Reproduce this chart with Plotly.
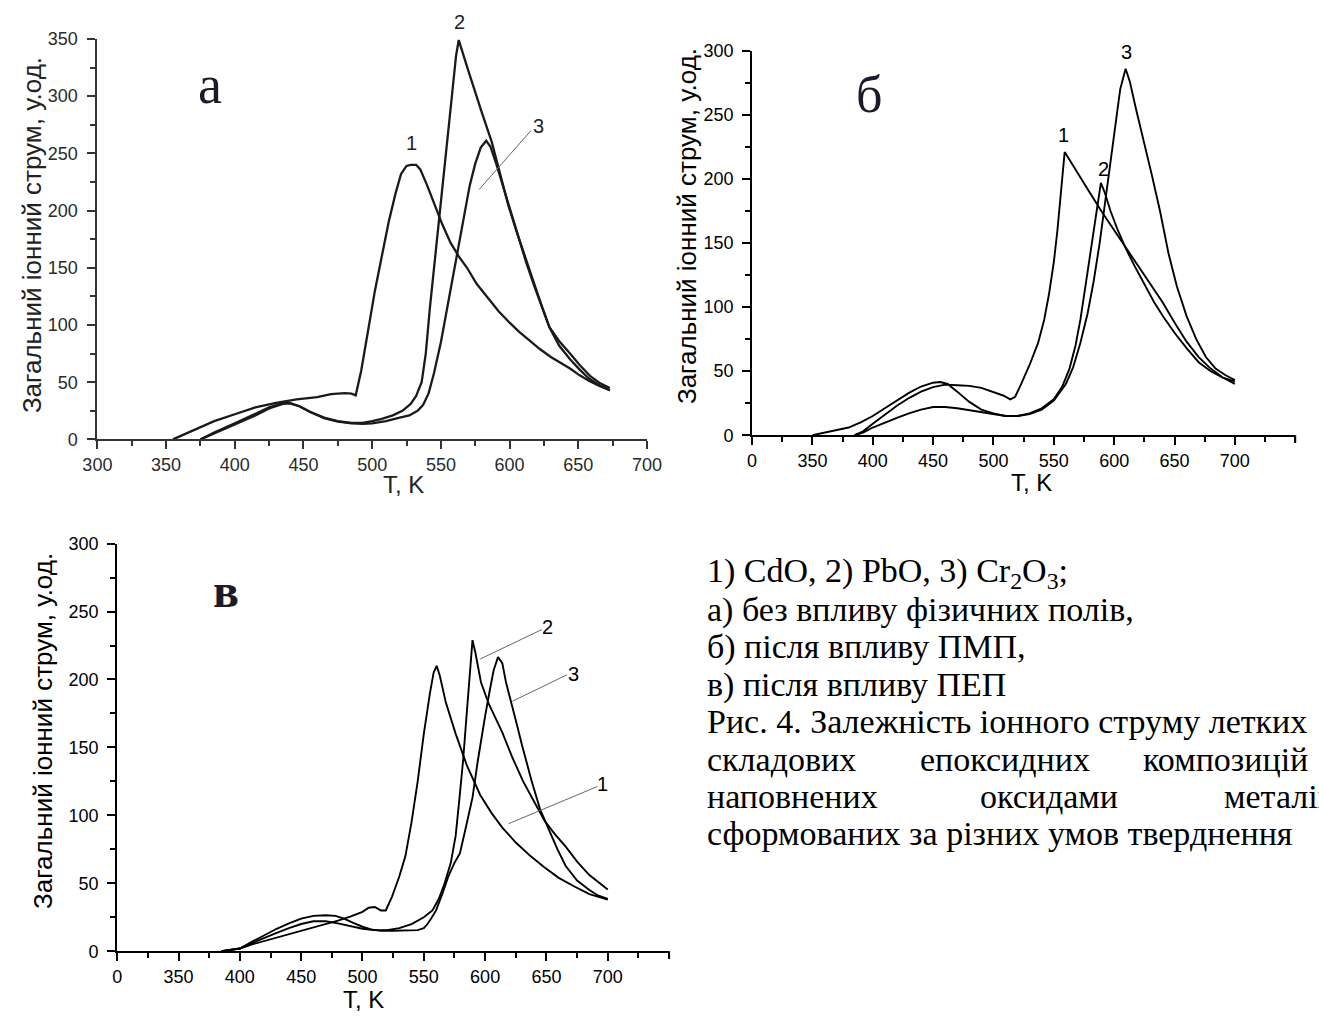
import plotly.graph_objects as go

W, H = 1319, 1021

# ---------------- data ----------------
# Panel а (без впливу фізичних полів)
a1_T = [355, 370, 385, 400, 415, 430, 445, 460, 470, 480, 485, 488, 492, 497, 502, 507, 512, 517, 521, 525, 528, 532, 535, 540, 545, 551, 557, 563, 569, 576, 584, 592, 600, 607, 614, 622, 630, 637, 644, 651, 658, 665, 673]
a1_I = [0, 8, 16, 22, 28, 32, 35, 37, 39.5, 40.5, 40, 38.5, 60, 95, 130, 160, 190, 215, 232, 239, 240, 240, 236, 222, 207, 188, 172, 160, 150, 136, 124, 112, 102, 94, 87, 79, 72, 67, 62, 56, 51, 47, 43]
a2_T = [375, 385, 400, 415, 425, 435, 440, 447, 455, 465, 475, 485, 493, 500, 507, 515, 522, 528, 532, 536, 539, 542, 546, 550, 554, 558, 561, 563, 570, 575, 580, 587, 593, 599, 605, 611, 617, 623, 629, 636, 644, 651, 659, 666, 673]
a2_I = [0, 6, 14, 22, 28, 32, 32, 29, 24, 19, 16, 14.5, 14.5, 16, 18, 21, 25, 31, 38, 50, 75, 115, 160, 205, 255, 300, 335, 349, 322, 303, 285, 260, 232, 205, 182, 160, 138, 118, 98, 86, 75, 65, 55, 49, 45]
a3_T = [375, 385, 400, 415, 425, 435, 440, 447, 455, 465, 475, 485, 493, 500, 510, 520, 527, 533, 537, 541, 545, 550, 555, 560, 566, 571, 575, 579, 583, 586, 590, 595, 600, 606, 612, 618, 623, 629, 636, 644, 651, 658, 666, 673]
a3_I = [0, 5, 13, 21, 27, 31, 31.5, 29, 24, 18.5, 15.5, 14, 13.5, 14, 16, 19, 21, 25, 30, 40, 58, 85, 118, 150, 190, 222, 241, 255, 261, 256, 242, 222, 202, 178, 155, 134, 117, 98, 82, 70, 61, 53, 47, 43]

# Panel б (після впливу ПМП)
b1_T = [385, 392, 400, 410, 420, 430, 440, 450, 460, 470, 480, 490, 500, 508, 514, 518, 523, 530, 537, 542, 546, 550, 553, 555, 557, 559, 563, 570, 580, 590, 600, 610, 620, 630, 640, 650, 660, 670, 680, 690, 700]
b1_I = [0, 3, 9, 16, 23, 29, 34, 37.5, 39.5, 39, 38.5, 37, 34, 31, 28, 30, 40, 55, 72, 90, 110, 135, 160, 180, 205, 221, 215, 204, 189, 174, 160, 146, 132, 119, 104, 88, 73, 61, 52, 45, 40]
b2_T = [385, 392, 400, 410, 420, 430, 440, 450, 460, 470, 480, 490, 500, 510, 520, 530, 540, 550, 557, 563, 568, 572, 576, 580, 583, 586, 589, 592, 597, 603, 610, 617, 625, 633, 641, 650, 660, 670, 680, 690, 700]
b2_I = [0, 2, 6, 10, 13.5, 17, 20, 22, 22, 21, 19.5, 17.5, 16, 15, 15, 17, 21, 28, 38, 52, 70, 90, 115, 140, 160, 180, 197, 190, 175, 160, 145, 132, 118, 104, 92, 80, 68, 57, 50, 45, 42]
b3_T = [350, 360, 370, 380, 390, 400, 410, 420, 430, 440, 450, 456, 462, 470, 480, 490, 500, 510, 520, 530, 540, 550, 560, 566, 572, 578, 583, 588, 593, 597, 601, 605, 609.5, 613, 618, 624, 631, 638, 645, 652, 660, 668, 676, 684, 692, 700]
b3_I = [0, 2, 4, 6, 10, 15, 21, 27, 33, 38, 41, 41.5, 40, 34, 26, 20, 17, 15, 15, 16.5, 20, 27, 40, 53, 72, 95, 120, 150, 185, 215, 245, 270, 286, 276, 255, 232, 204, 175, 142, 116, 93, 75, 61, 52, 47, 43]

# Panel в (після впливу ПЕП)
c1_T = [385, 395, 400, 410, 420, 430, 440, 450, 460, 470, 480, 490, 500, 505, 510, 515, 519, 524, 530, 535, 540, 545, 550, 555, 558, 560.5, 563, 568, 576, 585, 596, 605, 614, 625, 637, 648, 660, 672, 685, 700]
c1_I = [0, 1, 2, 5, 7.5, 10, 12.5, 14.5, 17, 19.5, 22.5, 25.5, 29, 32, 32.5, 30, 30, 40, 55, 70, 95, 125, 160, 190, 205, 210, 203, 183, 160, 137, 115, 102, 91, 80, 70, 62, 54, 48, 42, 38]
c2_T = [385, 395, 400, 410, 420, 430, 440, 450, 460, 470, 480, 490, 500, 510, 520, 530, 540, 550, 557, 562, 567, 572, 576, 579, 582, 585, 587.5, 589.7, 592, 596.6, 603, 608, 614, 622, 631, 640, 648.5, 657, 665.7, 675, 685, 700]
c2_I = [0, 1, 2, 6, 10, 13.5, 17, 20, 22, 22, 20.5, 18.5, 16.5, 15.5, 15.5, 17, 20, 25, 30, 38, 50, 65, 85, 112, 140, 175, 205, 229, 220, 198, 182, 172, 161, 143, 125, 110, 96, 86, 77, 66, 56, 45.5]
c3_T = [385, 395, 400, 410, 420, 430, 440, 450, 460, 470, 478, 485, 492, 500, 507, 515, 525, 535, 545, 550, 553, 556, 560, 565, 570, 575, 579.4, 584, 589.7, 594, 597, 600, 604, 607, 610.5, 614, 617, 621, 625, 630, 638, 645, 652, 659, 665.7, 675, 685, 692, 700]
c3_I = [0, 1, 2, 7, 12, 16.5, 20.5, 24, 26, 26.5, 26, 24, 21, 18, 16, 15, 15, 15, 15.5, 17, 20, 24, 30, 42, 55, 65, 72, 90, 113, 140, 158, 173, 193, 207, 216.5, 212, 198, 185, 170, 152, 125, 104, 89, 75, 62.7, 52, 45, 41, 38.5]

y_title = "Загальний іонний струм, у.од."
x_title = "T, K"
a_yticks = [0, 50, 100, 150, 200, 250, 300, 350]
a_xticks = [300, 350, 400, 450, 500, 550, 600, 650, 700]
bc_yticks = [0, 50, 100, 150, 200, 250, 300]
bc_xticks = [300, 350, 400, 450, 500, 550, 600, 650, 700]
bc_xticktext = ["0", "350", "400", "450", "500", "550", "600", "650", "700"]

caption_lines = [
    "1) CdO, 2) PbO, 3) Cr<sub>2</sub>O<sub>3</sub>;",
    "а) без впливу фізичних полів,",
    "б) після впливу ПМП,",
    "в) після впливу ПЕП",
    "Рис. 4. Залежність іонного струму летких",
]
caption_justified = [
    ["складових", "епоксидних", "композицій"],
    ["наповнених", "оксидами", "металів"],
]
caption_last = "сформованих за різних умов тверднення"

# ---------------- layout helpers ----------------
def fx(px):
    return px / W

def fy(py):
    return 1 - py / H

fig = go.Figure()

SANS = "Liberation Sans, Arial, sans-serif"
SERIF = "Liberation Serif, Times New Roman, serif"

def add_curve(T, I, xa, ya, width, color):
    fig.add_trace(go.Scatter(x=T, y=I, mode="lines", xaxis=xa, yaxis=ya,
                             line=dict(color=color, width=width), showlegend=False,
                             hoverinfo="skip"))

for T, I in [(a1_T, a1_I), (a2_T, a2_I), (a3_T, a3_I)]:
    add_curve(T, I, "x", "y", 2.3, "#1a1a1a")
for T, I in [(b1_T, b1_I), (b2_T, b2_I), (b3_T, b3_I)]:
    add_curve(T, I, "x2", "y2", 1.9, "#000")
for T, I in [(c1_T, c1_I), (c2_T, c2_I), (c3_T, c3_I)]:
    add_curve(T, I, "x3", "y3", 1.9, "#000")

def xaxis(domain, anchor, rng, tickvals, ticktext, font, lw, color):
    return dict(domain=domain, anchor=anchor, range=rng, showgrid=False, zeroline=False,
                showline=True, linecolor=color, linewidth=lw, ticks="outside", ticklen=8,
                tickwidth=lw, tickcolor=color, tickvals=tickvals, ticktext=ticktext,
                tickfont=font, fixedrange=True,
                minor=dict(dtick=25, tick0=300, ticks="outside", ticklen=5,
                           tickwidth=lw, tickcolor=color, showgrid=False))

def yaxis(domain, anchor, rng, tickvals, font, lw, color, standoff):
    return dict(domain=domain, anchor=anchor, range=rng, showgrid=False, zeroline=False,
                showline=True, linecolor=color, linewidth=lw, ticks="outside", ticklen=8,
                tickwidth=lw, tickcolor=color, tickvals=tickvals,
                ticktext=[str(v) for v in tickvals], tickfont=font, fixedrange=True,
                ticklabelstandoff=standoff,
                minor=dict(dtick=25, tick0=0, ticks="outside", ticklen=5,
                           tickwidth=lw, tickcolor=color, showgrid=False))

fa = dict(family=SANS, size=18, color="#2a2a2a")
fb = dict(family=SANS, size=18, color="#000")

fig.update_layout(
    width=W, height=H, margin=dict(l=0, r=0, t=0, b=0),
    paper_bgcolor="white", plot_bgcolor="rgba(0,0,0,0)", showlegend=False,
    xaxis=xaxis([fx(84.3), fx(646.7)], "y", [300, 700], a_xticks,
                [str(v) for v in a_xticks], fa, 2, "#333"),
    yaxis=yaxis([fy(438), fy(29.5)], "x", [0, 350], a_yticks, fa, 2, "#333", 6),
    xaxis2=xaxis([fx(754.2), fx(1310)], "y2", [300, 750], bc_xticks, bc_xticktext, fb, 2, "#000"),
    yaxis2=yaxis([fy(433.7), fy(41.7)], "x2", [0, 300], bc_yticks, fb, 2, "#000", 5),
    xaxis3=xaxis([fx(104.6), fx(669.3)], "y3", [300, 750], bc_xticks, bc_xticktext, fb, 2, "#000"),
    yaxis3=yaxis([fy(960), fy(544.3)], "x3", [0, 300], bc_yticks, fb, 2, "#000", 5),
)

ann = []
def text(px, py, s, size, family=SANS, color="#000", angle=0, xanchor="center", yanchor="middle"):
    ann.append(dict(x=fx(px), y=fy(py), xref="paper", yref="paper", text=s, showarrow=False,
                    textangle=angle, xanchor=xanchor, yanchor=yanchor,
                    font=dict(family=family, size=size, color=color)))

# axis titles
text(18, 230, y_title, 26, color="#222", angle=-90)
text(687, 220, y_title, 26, angle=-90)
text(28, 735, y_title, 26, angle=-90)
text(398, 484, x_title, 24, color="#222")
text(1040, 482, x_title, 24)
text(357, 1009, x_title, 24)

# panel letters
text(200, 76, "а", 54, family=SERIF, color="#1a1a2a")
text(874, 86, "б", 52, family=SERIF, color="#1a1a2a")
text(216, 592, "<b>в</b>", 48, family=SERIF, color="#1a1a2a")

# curve labels
text(406, 136, "1", 20, color="#222")
text(455, 12, "2", 20, color="#222")
text(536, 118, "3", 20, color="#222")
text(1073, 128, "1", 20)
text(1114, 162, "2", 20)
text(1137, 43, "3", 20)
text(545, 629, "2", 20)
text(572, 677, "3", 20)
text(601, 789, "1", 20)

# caption
CAP = 34
cy = [574, 612, 650, 688, 726]
for y0, s in zip(cy, caption_lines):
    text(706, y0, s, CAP, family=SERIF, xanchor="left")
word_x = [[706, 924, 1152], [706, 985, 1235]]
for y0, words, xs in zip([764, 802], caption_justified, word_x):
    for w, x0 in zip(words, xs):
        text(x0, y0, w, CAP, family=SERIF, xanchor="left")
text(706, 840, caption_last, CAP, family=SERIF, xanchor="left")

fig.update_layout(annotations=ann)

# leader lines
shapes = []
for (x0, y0, x1, y1) in [(475, 183, 528, 123), (476, 662, 539, 632), (509, 705, 565, 678), (505, 830, 596, 792)]:
    shapes.append(dict(type="line", xref="paper", yref="paper", x0=fx(x0), y0=fy(y0),
                       x1=fx(x1), y1=fy(y1), line=dict(color="#666", width=1)))
# major end ticks at 750 on the б and в axes
for (xp, yp) in [(1310, 433.7), (669.3, 960)]:
    shapes.append(dict(type="line", xref="paper", yref="paper", x0=fx(xp), y0=fy(yp),
                       x1=fx(xp), y1=fy(yp + 8), line=dict(color="#000", width=2)))
fig.update_layout(shapes=shapes)

fig.write_html("out.html")
